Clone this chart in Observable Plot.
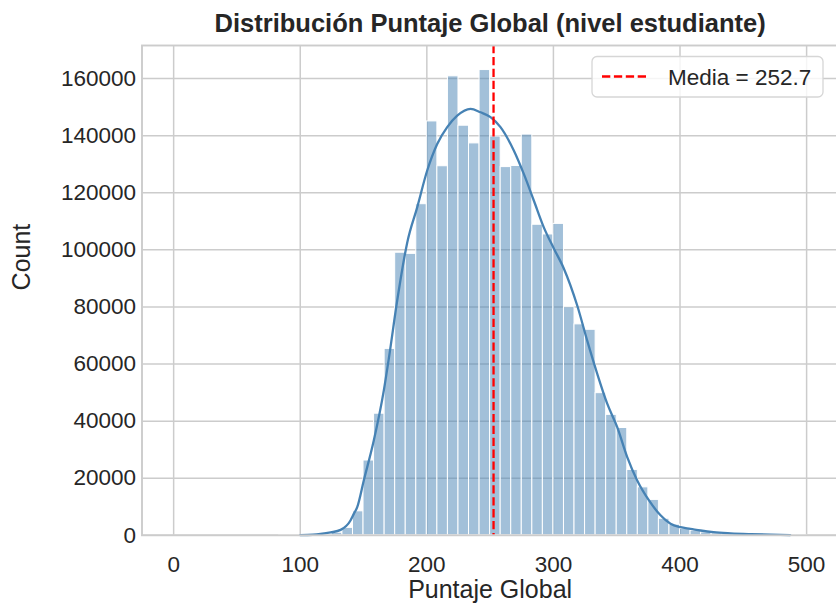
<!DOCTYPE html>
<html>
<head>
<meta charset="utf-8">
<script src="https://cdn.jsdelivr.net/npm/d3@7"></script>
<script src="https://cdn.jsdelivr.net/npm/@observablehq/plot@0.6"></script>
<style>
  html, body { margin: 0; padding: 0; background: #fff; overflow: hidden; }
  #wrap { position: relative; width: 836px; height: 604px; overflow: hidden; }
  #wrap svg { display: block; max-width: none !important; }
</style>
</head>
<body>
<div id="wrap"></div>
<script>
// Histogram of student global scores: 60 bins spanning 0–500
const binStart = 0;
const binWidth = 500 / 60;
const binCounts = [
  0, 0, 0, 0, 0, 0, 0, 0, 0, 0,
  20, 40, 80, 150, 350, 900, 2600, 8400, 26200, 42600,
  65300, 99000, 98600, 116000, 145000, 129300, 160800, 143500, 137300, 163000,
  139700, 129000, 129400, 140400, 108800, 105400, 109100, 79900, 73900, 72000,
  49800, 42200, 37600, 22900, 16800, 12400, 5800, 3700, 2300, 1600,
  1000, 700, 450, 300, 200, 120, 80, 40, 20, 10
];

// Smoothed density curve (scaled to counts)
const kdeScore = [100, 110, 116, 124, 131.9, 139.7, 142.3, 145, 150.2, 158.1, 166, 170, 176.6, 181.8, 184.5, 192.4,
  200.3, 208.2, 216.1, 224, 234.5, 242.4, 250.3, 258.2, 268.7, 276.6, 284.5, 292.4, 300.3, 308.2, 318.8,
  326.7, 334.6, 342.5, 350.4, 358.3, 366.2, 375.5, 384.6, 392.5, 400.4, 408.3, 416.2, 426.5, 440, 455.8, 471.5, 487];
const kdeCount = [60, 200, 450, 1000, 1900, 5200, 7500, 9850, 19200, 33200, 50700, 62000, 82250, 96300, 102500, 114900,
  127800, 137100, 143000, 147000, 149400, 148200, 146500, 143000, 134800, 126600, 117300, 107900, 100500, 93500, 80500,
  68200, 56600, 46100, 37900, 27400, 19200, 12200, 7000, 4030, 2840, 2280, 1680, 1090, 700, 420, 220, 90];

const meanScore = 252.7;
const xTicks = [0, 100, 200, 300, 400, 500];
const yTicks = [0, 20000, 40000, 60000, 80000, 100000, 120000, 140000, 160000];

const titleText = "Distribución Puntaje Global (nivel estudiante)";
const xLabel = "Puntaje Global";
const yLabel = "Count";
const legendLabel = `Media = ${meanScore}`;

const FONT = '"Liberation Sans", Arial, Helvetica, sans-serif';
const BAR = "#4682b4";
const GRID = "#cccccc";
const INK = "#262626";

const bins = binCounts.map((c, i) => ({
  x1: binStart + i * binWidth,
  x2: binStart + (i + 1) * binWidth,
  count: c
}));
const kde = kdeScore.map((s, i) => ({score: s, count: kdeCount[i]}));

const chart = Plot.plot({
  width: 840,
  height: 604,
  marginLeft: 141.5,
  marginRight: 2.25,
  marginTop: 45,
  marginBottom: 69.2,
  style: {fontFamily: FONT, color: INK, background: "white", overflow: "visible", maxWidth: "none"},
  x: {domain: [-25, 525]},
  y: {domain: [0, 171600]},
  marks: [
    Plot.ruleX(xTicks, {stroke: GRID, strokeWidth: 1.5}),
    Plot.ruleY(yTicks, {stroke: GRID, strokeWidth: 1.5}),
    Plot.rectY(bins, {x1: "x1", x2: "x2", y1: 0, y2: "count", fill: BAR, fillOpacity: 0.5, stroke: "white", strokeWidth: 1}),
    Plot.line(kde, {x: "score", y: "count", stroke: BAR, strokeWidth: 2.3, curve: "monotone-x"}),
    Plot.ruleX([meanScore], {stroke: "#ff0000", strokeWidth: 2.3, strokeDasharray: "8.3,3.6"}),
    Plot.frame({stroke: GRID, strokeWidth: 1.9}),
    Plot.axisX({ticks: xTicks, tickSize: 0, tickPadding: 21, fontSize: 22.5, label: null, tickFormat: d => String(d)}),
    Plot.axisY({ticks: yTicks, tickSize: 0, tickPadding: 6, fontSize: 22.5, label: null, tickFormat: d => String(d)}),
    Plot.text([titleText], {frameAnchor: "top", lineAnchor: "bottom", dy: -14, fontSize: 25.5, fontWeight: "bold", fill: INK}),
    Plot.text([xLabel], {frameAnchor: "bottom", lineAnchor: "bottom", dy: 63, fontSize: 25, fill: INK}),
    Plot.text([yLabel], {frameAnchor: "left", rotate: -90, dx: -120, fontSize: 25, fill: INK})
  ]
});

const wrap = document.getElementById("wrap");
wrap.appendChild(chart);

// Legend box (upper right)
const legend = d3.create("svg")
  .attr("width", 836).attr("height", 604)
  .style("position", "absolute").style("left", "0px").style("top", "0px")
  .style("pointer-events", "none");
legend.append("rect")
  .attr("x", 592).attr("y", 56.5).attr("width", 231).attr("height", 40.5)
  .attr("rx", 5).attr("ry", 5)
  .attr("fill", "white").attr("fill-opacity", 0.8)
  .attr("stroke", "#d6d6d6").attr("stroke-width", 1.3);
legend.append("line")
  .attr("x1", 602).attr("x2", 648).attr("y1", 76.5).attr("y2", 76.5)
  .attr("stroke", "#ff0000").attr("stroke-width", 2.3).attr("stroke-dasharray", "8.3,3.6");
legend.append("text")
  .attr("x", 668).attr("y", 84.5)
  .attr("font-family", FONT).attr("font-size", 22.5).attr("fill", INK)
  .text(legendLabel);
wrap.appendChild(legend.node());
</script>
</body>
</html>
